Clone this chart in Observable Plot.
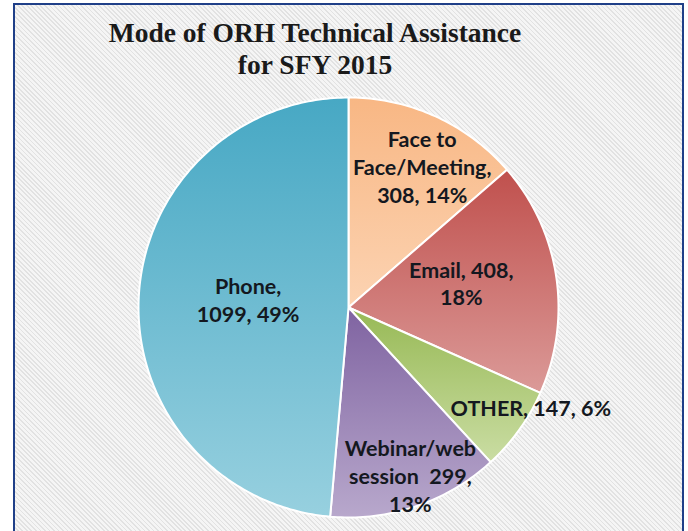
<!DOCTYPE html>
<html>
<head>
<meta charset="utf-8">
<script src="https://cdn.jsdelivr.net/npm/d3@7"></script>
<script src="https://cdn.jsdelivr.net/npm/@observablehq/plot@0.6"></script>
<style>
  html, body { margin: 0; padding: 0; }
  #frame {
    position: relative; width: 688px; height: 531px; overflow: hidden;
    background: #fff;
  }
  #box {
    position: absolute; left: 13px; top: 3px; width: 667px; height: 540px;
    border: 2px solid #1F3F88;
    background: repeating-linear-gradient(45deg, #f5f5f5 0px, #f5f5f5 2px, #e2e2e2 2px, #e2e2e2 3.2px);
  }
  #title {
    position: absolute; left: 0; top: 17px; width: 630px; text-align: center;
    font-family: "Liberation Serif", "DejaVu Serif", serif; font-weight: bold;
    font-size: 27.5px; line-height: 32px; color: #1a1a1a;
  }
  #chart { position: absolute; left: 0; top: 0; }
</style>
</head>
<body>
<div id="frame">
  <div id="box"></div>
  <div id="title">Mode of ORH Technical Assistance<br>for SFY 2015</div>
  <div id="chart"></div>
</div>
<script>
// Data
const categories = ["Face to Face/Meeting", "Email", "OTHER", "Webinar/web session", "Phone"];
const values = [308, 408, 147, 299, 1099];
const percents = ["14%", "18%", "6%", "13%", "49%"];
const labelLines = [
  ["Face to", "Face/Meeting,", "308, 14%"],
  ["Email, 408,", "18%"],
  ["OTHER, 147, 6%"],
  ["Webinar/web", "session  299,", "13%"],
  ["Phone,", "1099, 49%"]
];
const gradTop = ["#F8B784", "#C0504D", "#97B955", "#7F63A1", "#47A8C4"];
const gradBottom = ["#FCD3B2", "#DB9A98", "#CADDA3", "#B8A8CC", "#97D0DF"];
// label placement: radius fraction and angle shift (deg) relative to slice mid
const labelPlace = [[0.76, 3], [0.55, -4], [0.99, -7], [0.85, -1.5], [0.48, 2.5]];

const pie = d3.pie().sort(null).value(d => d)(values);
const toDeg = 180 / Math.PI;
const polys = [];
pie.forEach((p, i) => {
  const pts = [{name: categories[i], x: 0, y: 0}];
  const n = Math.max(4, Math.ceil((p.endAngle - p.startAngle) * toDeg));
  for (let k = 0; k <= n; k++) {
    const a = p.startAngle + (p.endAngle - p.startAngle) * k / n;
    pts.push({name: categories[i], x: Math.sin(a), y: Math.cos(a)});
  }
  pts.push({name: categories[i], x: 0, y: 0});
  polys.push(pts);
});

const labels = [];
pie.forEach((p, i) => {
  const [rf, shift] = labelPlace[i];
  const a = (p.startAngle + p.endAngle) / 2 + shift / toDeg;
  labels.push({text: labelLines[i].join("\n"), x: rf * Math.sin(a), y: rf * Math.cos(a)});
});

const chart = Plot.plot({
  width: 688, height: 531,
  marginLeft: 138, marginRight: 130, marginTop: 97, marginBottom: 14,
  x: {domain: [-1, 1], axis: null},
  y: {domain: [-1, 1], axis: null},
  style: {background: "transparent", overflow: "visible"},
  marks: [
    ...polys.map((pts, i) => Plot.line(pts, {
      x: "x", y: "y", fill: `url(#grad${i})`, stroke: "#ffffff", strokeWidth: 2, strokeLinejoin: "round"
    })),
    Plot.text(labels, {
      x: "x", y: "y", text: "text", fontSize: 21.5, fontWeight: "bold", lineHeight: 1.3,
      fill: "#141820", fontFamily: "Lato, 'Open Sans', sans-serif"
    })
  ]
});

const defs = d3.select(chart).insert("defs", ":first-child");
categories.forEach((c, i) => {
  const g = defs.append("linearGradient").attr("id", `grad${i}`)
    .attr("x1", 0).attr("y1", 0).attr("x2", 0).attr("y2", 1);
  g.append("stop").attr("offset", "0%").attr("stop-color", gradTop[i]);
  g.append("stop").attr("offset", "100%").attr("stop-color", gradBottom[i]);
});

document.getElementById("chart").appendChild(chart);
</script>
</body>
</html>
